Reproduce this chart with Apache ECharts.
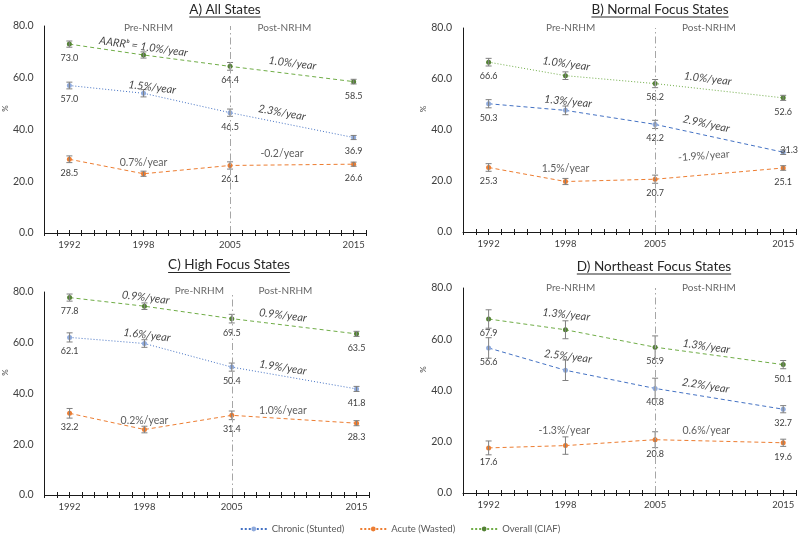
<!DOCTYPE html>
<html><head><meta charset="utf-8">
<script src="https://cdn.jsdelivr.net/npm/echarts@6/dist/echarts.min.js"></script>
<style>html,body{margin:0;padding:0;background:#fff}#c{width:800px;height:536px}</style>
</head><body><div id="c"></div>
<script>
// ---------- DATA ----------
const years = [1992, 1998, 2005, 2015];
const labeledYears = [1992, 2005, 2015];
const seriesNames = ['Chronic (Stunted)', 'Acute (Wasted)', 'Overall (CIAF)'];
const panelTitles = ['A) All States', 'B) Normal Focus States', 'C) High Focus States', 'D) Northeast Focus States'];
const periodLabels = ['Pre-NRHM', 'Post-NRHM'];
const xLabelYears = [1992, 1998, 2005, 2015];

const chronicA = [57.0, 54.0, 46.5, 36.9];
const acuteA   = [28.5, 22.9, 26.1, 26.6];
const overallA = [73.0, 68.8, 64.4, 58.5];
const chronicErrA = [1.3, 1.4, 1.4, 0.8];
const acuteErrA   = [1.3, 1.0, 1.4, 0.8];
const overallErrA = [1.2, 1.2, 1.5, 0.9];
const aarrA = ['AARRᵇ = 1.0%/year', '1.0%/year', '1.5%/year', '2.3%/year', '0.7%/year', '-0.2/year'];

const chronicB = [50.3, 47.7, 42.2, 31.3];
const acuteB   = [25.3, 19.8, 20.7, 25.1];
const overallB = [66.6, 61.3, 58.2, 52.6];
const chronicErrB = [1.6, 1.7, 1.6, 0.9];
const acuteErrB   = [1.5, 1.2, 1.6, 0.9];
const overallErrB = [1.5, 1.5, 1.6, 1.0];
const aarrB = ['1.0%/year', '1.0%/year', '1.3%/year', '2.9%/year', '1.5%/year', '-1.9%/year'];

const chronicC = [62.1, 59.7, 50.4, 41.8];
const acuteC   = [32.2, 25.8, 31.4, 28.3];
const overallC = [77.8, 74.4, 69.5, 63.5];
const chronicErrC = [1.8, 1.5, 1.6, 1.0];
const acuteErrC   = [1.9, 1.3, 1.7, 1.0];
const overallErrC = [1.4, 1.3, 1.7, 1.0];
const aarrC = ['0.9%/year', '0.9%/year', '1.6%/year', '1.9%/year', '0.2%/year', '1.0%/year'];

const chronicD = [56.6, 47.9, 40.8, 32.7];
const acuteD   = [17.6, 18.5, 20.8, 19.6];
const overallD = [67.9, 63.7, 56.9, 50.1];
const chronicErrD = [4.0, 4.0, 4.0, 1.4];
const acuteErrD   = [2.7, 3.4, 3.1, 1.4];
const overallErrD = [3.6, 3.5, 4.4, 1.6];
const aarrD = ['1.3%/year', '1.3%/year', '2.5%/year', '2.2%/year', '-1.3%/year', '0.6%/year'];

// ---------- LAYOUT / STYLE (not data) ----------
const FONT = 'Lato';
const colors = {
  line: ['#4472c4', '#ed7d31', '#70ad47'],
  marker: ['#8faadc', '#ed7d31', '#548235']
};
const DASH = [4, 3], DOT = [1, 2];
const layouts = [
  { grid: {left: 35, top: 26, width: 331, height: 207}, title: [225, 9.5], nameGap: 24,
    lineTypes: [DOT, DASH, DASH],
    notes: [[1998.0, 72.0, -8, 1], [2010.05, 65.6, -7, 1], [1998.7, 56.3, -7, 1], [2009.2, 46.5, -10, 1], [1998.0, 27.2, 0, 0], [2009.2, 30.5, 0, 0]],
    periods: [[1998.4, 79.3], [2009.4, 79.3]], labelShift: {} },
  { grid: {left: 463, top: 28, width: 333, height: 204}, title: [660, 9.5], nameGap: 22,
    lineTypes: [DASH, DASH, DOT],
    notes: [[1998.06, 66.0, -8, 1], [2009.1, 60.1, -7, 1], [1998.2, 51.2, -6, 1], [2009.0, 42.4, -12, 1], [1998.0, 24.8, 0, 0], [2008.8, 29.9, 4, 0]],
    periods: [[1998.4, 80], [2009.2, 80]], labelShift: {'0_3': [6, -16]} },
  { grid: {left: 38, top: 292, width: 331, height: 203}, title: [229, 265], nameGap: 25,
    lineTypes: [DOT, DASH, DASH],
    notes: [[1998.1, 77.8, -7, 1], [2009.1, 70.8, -7, 1], [1998.2, 63.0, -7, 1], [2009.1, 50.2, -9, 1], [1998.0, 29.5, 0, 0], [2009.1, 33.4, 0, 0]],
    periods: [[2002.4, 80.4], [2009.3, 80.4]], labelShift: {} },
  { grid: {left: 463, top: 288, width: 333, height: 205}, title: [654, 266.5], nameGap: 22,
    lineTypes: [DASH, DASH, DASH],
    notes: [[1998.06, 69.6, -6, 1], [2009.0, 57.2, -8, 1], [1998.2, 53.3, -7, 1], [2008.95, 41.9, -9, 1], [1997.9, 24.5, 0, 0], [2009.0, 24.5, 0, 0]],
    periods: [[1998.4, 80], [2009.2, 80]], labelShift: {} }
];

const panels = [
  { vals: [chronicA, acuteA, overallA], errs: [chronicErrA, acuteErrA, overallErrA], aarr: aarrA },
  { vals: [chronicB, acuteB, overallB], errs: [chronicErrB, acuteErrB, overallErrB], aarr: aarrB },
  { vals: [chronicC, acuteC, overallC], errs: [chronicErrC, acuteErrC, overallErrC], aarr: aarrC },
  { vals: [chronicD, acuteD, overallD], errs: [chronicErrD, acuteErrD, overallErrD], aarr: aarrD }
];

const grids = [], xAxes = [], yAxes = [], series = [];
layouts.forEach((L, i) => {
  grids.push(Object.assign({containLabel: false}, L.grid));
  xAxes.push({
    type: 'value', gridIndex: i, min: 1990, max: 2016, interval: 1,
    axisLine: {show: true, lineStyle: {color: '#1a1a1a', width: 1}},
    axisTick: {show: true, inside: false, length: 3, lineStyle: {color: '#1a1a1a'}},
    axisLabel: {fontFamily: FONT, fontSize: 9.5, color: '#404040', margin: 7,
      formatter: v => xLabelYears.includes(v) ? String(v) : ''},
    splitLine: {show: false}
  });
  xAxes.push({
    type: 'value', gridIndex: i, min: 1990, max: 2016, interval: 1, position: 'bottom', offset: 0,
    axisLine: {show: false},
    axisTick: {show: true, inside: true, length: 3, lineStyle: {color: '#1a1a1a'}},
    axisLabel: {show: false}, splitLine: {show: false}
  });
  yAxes.push({
    type: 'value', gridIndex: i, min: 0, max: 80, interval: 20,
    name: '%', nameLocation: 'middle', nameGap: L.nameGap, nameRotate: 90,
    nameTextStyle: {fontFamily: FONT, fontSize: 8, color: '#404040', padding: [0, 0, 0, 42]},
    axisLine: {show: true, lineStyle: {color: '#1a1a1a', width: 1}},
    axisTick: {show: false},
    axisLabel: {fontFamily: FONT, fontSize: 10.5, color: '#404040', margin: 11, formatter: v => v.toFixed(1)},
    splitLine: {show: false}
  });
});

// panel D first so the legend picks its (dashed) styling
[3, 0, 1, 2].forEach(i => {
  const P = panels[i], L = layouts[i];
  for (let s = 0; s < 3; s++) {
    const vals = P.vals[s];
    const line = {
      type: 'line', name: seriesNames[s], xAxisIndex: 2 * i, yAxisIndex: i,
      symbol: 'circle', symbolSize: 5, showSymbol: true, z: 2,
      lineStyle: {color: colors.line[s], width: 1, type: L.lineTypes[s]},
      itemStyle: {color: colors.marker[s]},
      label: {show: true, position: 'bottom', distance: 7, fontFamily: FONT, fontSize: 9, color: '#404040',
        formatter: p => p.value[1].toFixed(1)},
      data: years.map((y, k) => {
        const d = {value: [y, vals[k]], label: {show: labeledYears.includes(y)}};
        const sh = L.labelShift[s + '_' + k];
        if (sh) d.label.offset = sh;
        return d;
      })
    };
    if (s === 0) {
      line.markLine = {
        silent: true, symbol: 'none', label: {show: false}, animation: false,
        lineStyle: {color: '#a6a6a6', width: 1, type: [7, 3, 1.5, 3]},
        data: [{xAxis: 2005}]
      };
    }
    series.push(line);
    series.push({
      type: 'custom', name: 'err', xAxisIndex: 2 * i, yAxisIndex: i, z: 3, silent: true,
      encode: {x: 0, y: [1, 2]},
      data: years.map((y, k) => [y, vals[k] - P.errs[s][k], vals[k] + P.errs[s][k]]),
      renderItem: (params, api) => {
        const x = api.value(0);
        const top = api.coord([x, api.value(2)]);
        const bot = api.coord([x, api.value(1)]);
        const w = 3, st = {stroke: '#7f7f7f', lineWidth: 1};
        return {type: 'group', children: [
          {type: 'line', shape: {x1: top[0], y1: top[1], x2: bot[0], y2: bot[1]}, style: st},
          {type: 'line', shape: {x1: top[0] - w, y1: top[1], x2: top[0] + w, y2: top[1]}, style: st},
          {type: 'line', shape: {x1: bot[0] - w, y1: bot[1], x2: bot[0] + w, y2: bot[1]}, style: st}
        ]};
      }
    });
  }
  const noteData = L.notes.map((n, j) => ({
    value: [n[0], n[1]], name: P.aarr[j],
    label: {rotate: n[2], fontStyle: n[3] ? 'italic' : 'normal', fontSize: n[3] ? 11 : 10.5,
      color: n[3] ? '#111111' : '#333333'}
  }));
  L.periods.forEach((p, j) => noteData.push({
    value: p, name: periodLabels[j], label: {rotate: 0, fontSize: 10, color: '#404040'}
  }));
  series.push({
    type: 'scatter', name: 'notes', xAxisIndex: 2 * i, yAxisIndex: i, clip: false, silent: true,
    symbolSize: 1, itemStyle: {color: 'rgba(0,0,0,0)'}, z: 4,
    label: {show: true, position: 'inside', formatter: '{b}', fontFamily: FONT},
    data: noteData
  });
});

// titles with underline
const TFS = 13.5;
const ctx = document.createElement('canvas').getContext('2d');
ctx.font = TFS + 'px ' + FONT;
const graphics = [];
layouts.forEach((L, i) => {
  const w = ctx.measureText(panelTitles[i]).width;
  const [cx, cy] = L.title;
  graphics.push({type: 'text', x: cx, y: cy, silent: true,
    style: {text: panelTitles[i], fontFamily: FONT, fontSize: TFS, fill: '#262626', align: 'center', verticalAlign: 'middle'}});
  graphics.push({type: 'line', silent: true,
    shape: {x1: cx - w / 2, y1: cy + 7.5, x2: cx + w / 2, y2: cy + 7.5}, style: {stroke: '#262626', lineWidth: 1}});
});

const chart = echarts.init(document.getElementById('c'), null, {renderer: 'canvas'});
chart.setOption({
  animation: false,
  backgroundColor: '#ffffff',
  textStyle: {fontFamily: FONT},
  grid: grids, xAxis: xAxes, yAxis: yAxes,
  legend: {
    data: seriesNames, top: 519, left: 'center', itemWidth: 26, itemHeight: 6, itemGap: 15,
    lineStyle: {type: [2, 2]},
    textStyle: {fontFamily: FONT, fontSize: 9.5, color: '#595959'}
  },
  graphic: graphics,
  series: series
});
</script>
</body></html>
